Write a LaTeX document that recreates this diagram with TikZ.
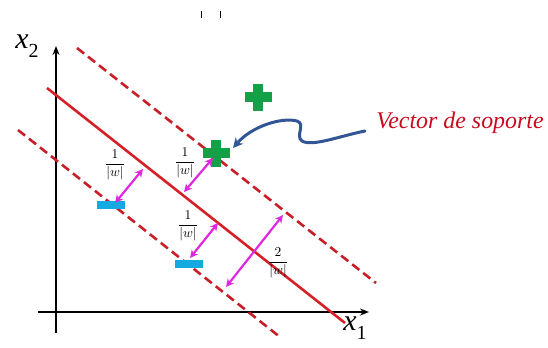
\documentclass[tikz,border=0pt]{standalone}
\usepackage{fontspec}
\setmainfont{Liberation Serif}
\usetikzlibrary{arrows.meta}
\definecolor{svmred}{RGB}{214,32,40}
\definecolor{dashred}{RGB}{200,30,40}
\definecolor{plusgreen}{RGB}{20,160,70}
\definecolor{barblue}{RGB}{20,170,225}
\definecolor{arrmag}{RGB}{225,40,225}
\definecolor{curvblue}{RGB}{50,85,150}
\definecolor{labred}{RGB}{200,10,30}
\newcommand{\myfrac}[1]{\scalebox{1.35}{$\displaystyle\frac{#1}{|w|}$}}
\begin{document}
\begin{tikzpicture}[x=1bp,y=-1bp,
  axis/.style={line width=2.8bp,-{Stealth[length=9bp,width=7bp]}},
  hyper/.style={svmred,line width=2.6bp},
  margin/.style={dashred,line width=2.6bp,dash pattern=on 9bp off 5bp},
  dist/.style={arrmag,line width=2.2bp,{Stealth[length=8bp,width=8bp]}-{Stealth[length=8bp,width=8bp]}},
  frac/.style={inner sep=0pt},
  bar/.style={fill=barblue,draw=none,minimum width=28bp,minimum height=8bp,inner sep=0pt},
  axlabel/.style={inner sep=0pt,font=\fontsize{30}{30}\selectfont\itshape},
  plussign/.pic={\fill[plusgreen] (-13.5,-5) rectangle (13.5,5);
                 \fill[plusgreen] (-5,-13.5) rectangle (5,13.5);},
]
\useasboundingbox (0,0) rectangle (548,347);
% top ticks
\draw[line width=0.8bp] (201,11) -- (201,18);
\draw[line width=0.8bp] (220,11) -- (220,18);
% axes
\coordinate (ybot) at (56,333);
\coordinate (ytop) at (56,46);
\coordinate (xleft) at (38,312);
\coordinate (xright) at (369,312);
\draw[axis] (ybot) -- (ytop);
\draw[axis] (xleft) -- (xright);
\node[axlabel] (lx2) at (27,46) {x\raisebox{-0.3em}{\fontsize{20}{20}\selectfont\upshape 2}};
\node[axlabel] (lx1) at (355,328) {x\raisebox{-0.3em}{\fontsize{20}{20}\selectfont\upshape 1}};
% hyperplanes
\coordinate (h1) at (47,88);   \coordinate (h2) at (345,323);
\coordinate (u1) at (77,48);   \coordinate (u2) at (376,283);
\coordinate (l1) at (18,130);  \coordinate (l2) at (280,337);
\draw[hyper] (h1) -- (h2);
\draw[margin] (u1) -- (u2);
\draw[margin] (l1) -- (l2);
% class markers
\pic at (258,97) {plussign};
\pic at (216,153) {plussign};
\node[bar] (neg1) at (111,205) {};
\node[bar] (neg2) at (189,263.5) {};
% distance arrows
\coordinate (a1s) at (115,203); \coordinate (a1e) at (143,169);
\coordinate (a2s) at (184,192); \coordinate (a2e) at (213,158);
\coordinate (a3s) at (190,258); \coordinate (a3e) at (218,223);
\coordinate (a4s) at (226,287); \coordinate (a4e) at (283,215);
\draw[dist] (a1s) -- (a1e);
\draw[dist] (a2s) -- (a2e);
\draw[dist] (a3s) -- (a3e);
\draw[dist] (a4s) -- (a4e);
\node[frac] (f1) at (115,165) {\myfrac{1}};
\node[frac] (f2) at (185,163) {\myfrac{1}};
\node[frac] (f3) at (188,226) {\myfrac{1}};
\node[frac] (f4) at (278,263) {\myfrac{2}};
% support vector label
\node[labred,inner sep=0pt,font=\fontsize{24}{24}\selectfont\itshape] (sv) at (460,123) {Vector de soporte};
\coordinate (cs) at (365,131);
\coordinate (ce) at (233,148);
\draw[curvblue,line width=3bp,line cap=round,-{Stealth[length=10bp,width=10bp]}]
  (cs) .. controls (340,136) and (312,147) .. (302,141)
       .. controls (295,136) and (306,124) .. (297,121)
       .. controls (282,117) and (252,126) .. (ce);
\end{tikzpicture}
\end{document}
